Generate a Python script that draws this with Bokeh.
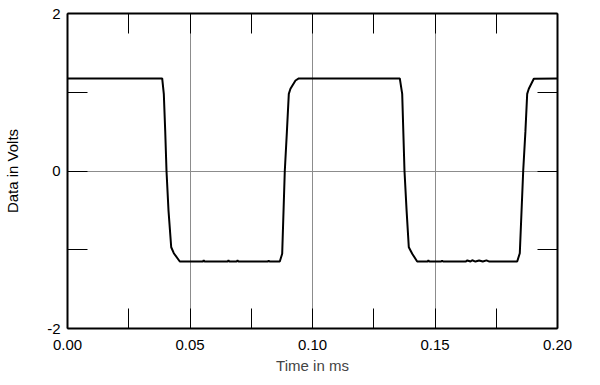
from bokeh.plotting import figure
from bokeh.models import FixedTicker, LinearAxis, PrintfTickFormatter, Range1d
from bokeh.embed import file_html
from bokeh.resources import INLINE

# Waveform (time in ms, data in volts)
time_ms = [
    0.0, 0.03865, 0.03931, 0.03988, 0.04041, 0.04122, 0.04233, 0.04339, 0.04584,
    0.0520, 0.0553, 0.0556, 0.0559, 0.0600, 0.0654, 0.0657, 0.0660, 0.0690, 0.0694, 0.0698,
    0.0780, 0.0818, 0.0821, 0.0825,
    0.08665, 0.08763, 0.08869, 0.08955, 0.09033, 0.0910, 0.09306, 0.09441,
    0.13563, 0.13661, 0.13755, 0.13840, 0.13931, 0.1407, 0.14273,
    0.1450, 0.1470, 0.1473, 0.1477, 0.1525, 0.1529, 0.1533,
    0.1600, 0.1625, 0.1632, 0.1645, 0.1652, 0.1665, 0.1680, 0.1695, 0.1710, 0.1722, 0.1727,
    0.18355, 0.18461, 0.1860, 0.18690, 0.18763, 0.18829, 0.19033, 0.2,
]
volts = [
    1.175, 1.175, 0.98, 0.51, 0.0, -0.50, -0.968, -1.044, -1.149,
    -1.150, -1.150, -1.132, -1.150, -1.150, -1.150, -1.135, -1.150, -1.150, -1.136, -1.150,
    -1.150, -1.150, -1.138, -1.150,
    -1.149, -1.051, 0.0, 0.50, 0.98, 1.044, 1.149, 1.175,
    1.175, 0.98, 0.0, -0.50, -0.968, -1.051, -1.149,
    -1.150, -1.150, -1.135, -1.150, -1.150, -1.138, -1.150,
    -1.150, -1.150, -1.136, -1.150, -1.134, -1.150, -1.137, -1.150, -1.135, -1.150, -1.150,
    -1.149, -1.044, 0.0, 0.50, 0.98, 1.044, 1.171, 1.175,
]

x_major = [0.0, 0.05, 0.10, 0.15, 0.20]
x_minor = [0.025, 0.075, 0.125, 0.175]
y_major = [-2, 0, 2]
y_minor = [-1, 1]
y_title_span = (-2.0, 0.97)  # the y title sits centred on this span, as in the reference

FONT = "Liberation Sans"
FS = "15px"

p = figure(width=600, height=385, output_backend="svg", toolbar_location=None,
           x_range=Range1d(0, 0.2), y_range=Range1d(-2, 2),
           x_axis_location=None, y_axis_location=None,
           min_border_left=67, min_border_right=43, min_border_top=13, min_border_bottom=57)
p.outline_line_color = None
p.background_fill_color = "white"
p.border_fill_color = "white"

def style_axis(ax, major, minor, labels):
    ax.ticker = FixedTicker(ticks=major, minor_ticks=minor)
    ax.axis_line_color = "black"
    ax.axis_line_width = 2
    ax.major_tick_in = 20
    ax.major_tick_out = 0
    ax.minor_tick_in = 20
    ax.minor_tick_out = 0
    ax.major_tick_line_color = "black"
    ax.minor_tick_line_color = "black"
    ax.major_tick_line_width = 1
    ax.minor_tick_line_width = 1
    ax.major_label_text_font = FONT
    ax.major_label_text_font_size = FS
    ax.major_label_text_color = "black"
    if not labels:
        ax.major_label_text_font_size = "0px"
        ax.major_label_text_alpha = 0

xb = LinearAxis(axis_label="Time in ms")
style_axis(xb, x_major, x_minor, True)
xb.formatter = PrintfTickFormatter(format="%.2f")
xb.major_label_standoff = 11
xb.axis_label_text_font = FONT
xb.axis_label_text_font_size = FS
xb.axis_label_text_font_style = "normal"
xb.axis_label_standoff = 4
p.add_layout(xb, "below")

xt = LinearAxis()
style_axis(xt, x_major, x_minor, False)
p.add_layout(xt, "above")

yl = LinearAxis()
style_axis(yl, y_major, y_minor, True)
yl.formatter = PrintfTickFormatter(format="%d")
yl.major_label_standoff = 7
p.add_layout(yl, "left")

# extra left axis carrying only the title, centred on y_title_span
yt = LinearAxis(axis_label="Data in Volts", bounds=y_title_span)
yt.ticker = FixedTicker(ticks=[], minor_ticks=[])
yt.axis_line_color = None
yt.major_tick_line_color = None
yt.minor_tick_line_color = None
yt.major_tick_in = 0
yt.major_tick_out = 0
yt.minor_tick_in = 0
yt.minor_tick_out = 0
yt.major_label_text_font_size = "0px"
yt.major_label_standoff = 0
yt.axis_label_text_font = FONT
yt.axis_label_text_font_size = FS
yt.axis_label_text_font_style = "normal"
yt.axis_label_text_color = "black"
yt.axis_label_standoff = 24
p.add_layout(yt, "left")

yr = LinearAxis()
style_axis(yr, y_major, y_minor, False)
p.add_layout(yr, "right")

p.xgrid.ticker = FixedTicker(ticks=[0.05, 0.10, 0.15])
p.ygrid.ticker = FixedTicker(ticks=[0])
p.grid.grid_line_color = "#8c8c8c"
p.grid.grid_line_width = 1

p.line(time_ms, volts, line_color="black", line_width=2)

open("out.html", "w").write(file_html(p, INLINE))
